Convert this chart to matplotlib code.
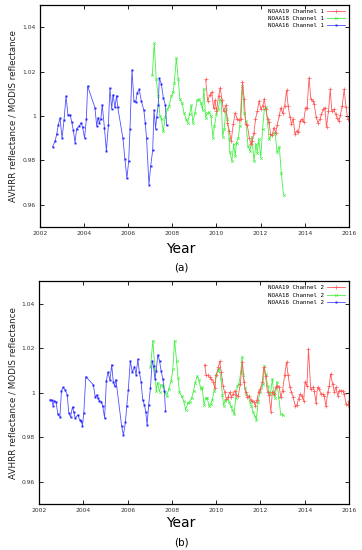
import matplotlib
matplotlib.use("Agg")
import matplotlib.pyplot as plt
import numpy as np

# ---------------- panel (a): channel 1 ----------------
a16_year = [2002.57, 2002.68, 2002.76, 2002.83, 2002.91, 2003.00, 2003.09, 2003.18, 2003.27, 2003.36,
            2003.44, 2003.51, 2003.59, 2003.66, 2003.78, 2003.87, 2003.93, 2004.02, 2004.10, 2004.16,
            2004.49, 2004.57, 2004.63, 2004.69, 2004.76, 2004.82, 2004.92, 2005.01, 2005.10, 2005.17,
            2005.25, 2005.31, 2005.40, 2005.47, 2005.52, 2005.76, 2005.85, 2005.94, 2006.02, 2006.08,
            2006.17, 2006.26, 2006.34, 2006.41, 2006.50, 2006.59, 2006.71, 2006.77, 2006.83, 2006.94,
            2007.02, 2007.11, 2007.17, 2007.24, 2007.29, 2007.36, 2007.41, 2007.50, 2007.59, 2007.68,
            2007.74]
a16_ratio = [0.9862, 0.9886, 0.9919, 0.9961, 0.9991, 0.9901, 0.9982, 1.0090, 1.0003, 1.0006,
             0.9973, 0.9937, 0.9880, 0.9943, 0.9955, 0.9970, 0.9949, 0.9901, 0.9985, 1.0134,
             1.0038, 0.9955, 0.9993, 0.9970, 0.9988, 1.0051, 0.9948, 0.9843, 0.9958, 1.0126,
             1.0033, 1.0096, 1.0039, 1.0092, 1.0042, 0.9900, 0.9805, 0.9720, 0.9796, 0.9940,
             1.0207, 1.0068, 1.0063, 1.0105, 1.0120, 1.0069, 1.0026, 0.9970, 0.9901, 0.9691,
             0.9777, 0.9847, 1.0026, 0.9943, 0.9996, 1.0050, 1.0170, 1.0146, 1.0083, 1.0051,
             0.9958]

a18_year = [2007.09, 2007.18, 2007.27, 2007.36, 2007.44, 2007.51, 2007.59, 2007.68, 2007.77, 2007.86,
            2007.95, 2008.04, 2008.09, 2008.18, 2008.27, 2008.34, 2008.44, 2008.53, 2008.62, 2008.69,
            2008.78, 2008.86, 2008.93, 2009.02, 2009.13, 2009.22, 2009.30, 2009.37, 2009.43, 2009.51,
            2009.58, 2009.67, 2009.75, 2009.84, 2009.91, 2010.00, 2010.07, 2010.16, 2010.22, 2010.28,
            2010.35, 2010.43, 2010.50, 2010.58, 2010.61, 2010.70, 2010.78, 2010.85, 2010.91, 2010.99,
            2011.06, 2011.14, 2011.18, 2011.26, 2011.33, 2011.43, 2011.52, 2011.61, 2011.70, 2011.79,
            2011.85, 2011.92, 2012.01, 2012.09, 2012.17, 2012.24, 2012.32, 2012.39, 2012.48, 2012.57,
            2012.66, 2012.75, 2012.85, 2012.94, 2013.04]
a18_ratio = [1.0183, 1.0327, 1.0165, 1.0090, 1.0000, 0.9985, 0.9931, 0.9997, 1.0030, 1.0045,
             1.0090, 1.0108, 1.0150, 1.0261, 1.0165, 1.0078, 1.0057, 1.0015, 0.9985, 0.9970,
             1.0008, 1.0048, 0.9970, 1.0015, 1.0071, 1.0075, 1.0057, 1.0027, 1.0123, 0.9993,
             1.0012, 1.0018, 1.0000, 0.9903, 0.9955, 1.0008, 1.0030, 1.0075, 1.0068, 0.9907,
             0.9940, 1.0030, 0.9988, 0.9895, 0.9838, 0.9798, 0.9873, 0.9820, 0.9880, 0.9903,
             0.9955, 1.0105, 1.0135, 1.0015, 0.9978, 0.9865, 0.9843, 0.9907, 0.9798, 0.9873,
             0.9835, 0.9895, 0.9813, 0.9940, 1.0030, 1.0042, 0.9970, 0.9895, 0.9913, 0.9922,
             0.9925, 0.9838, 0.9862, 0.9745, 0.9645]

a19_year = [2009.51, 2009.60, 2009.69, 2009.78, 2009.87, 2009.93, 2010.00, 2010.10, 2010.17, 2010.25,
            2010.32, 2010.43, 2010.50, 2010.58, 2010.67, 2010.76, 2010.85, 2010.93, 2011.02, 2011.11,
            2011.18, 2011.26, 2011.33, 2011.40, 2011.49, 2011.56, 2011.62, 2011.70, 2011.77, 2011.85,
            2011.94, 2012.01, 2012.09, 2012.17, 2012.24, 2012.32, 2012.39, 2012.45, 2012.54, 2012.60,
            2012.69, 2012.75, 2012.85, 2012.92, 2013.00, 2013.09, 2013.18, 2013.25, 2013.33, 2013.40,
            2013.48, 2013.56, 2013.63, 2013.72, 2013.80, 2013.87, 2013.95, 2014.04, 2014.11, 2014.20,
            2014.28, 2014.36, 2014.43, 2014.52, 2014.60, 2014.69, 2014.76, 2014.84, 2014.91, 2014.99,
            2015.08, 2015.16, 2015.23, 2015.32, 2015.40, 2015.47, 2015.55, 2015.62, 2015.70, 2015.79,
            2015.87, 2015.96, 2016.00]
a19_ratio = [1.0165, 1.0068, 1.0093, 1.0108, 1.0036, 1.0072, 1.0023, 1.0090, 1.0128, 1.0072,
             1.0023, 1.0048, 0.9970, 0.9933, 0.9888, 0.9963, 1.0015, 0.9988, 0.9982, 0.9988,
             1.0155, 1.0075, 0.9963, 0.9958, 0.9903, 0.9873, 0.9888, 0.9925, 0.9985, 1.0023,
             1.0068, 1.0030, 1.0045, 1.0075, 1.0030, 0.9988, 0.9973, 0.9918, 0.9913, 0.9948,
             0.9925, 0.9958, 1.0003, 1.0038, 1.0012, 1.0045, 1.0116, 1.0045, 0.9997, 0.9963,
             0.9988, 0.9918, 0.9933, 0.9928, 0.9978, 0.9985, 0.9973, 1.0038, 1.0038, 1.0173,
             1.0078, 1.0068, 1.0053, 0.9997, 0.9970, 0.9985, 1.0008, 1.0030, 1.0038, 0.9952,
             1.0023, 1.0120, 1.0023, 1.0030, 1.0008, 0.9993, 0.9978, 1.0003, 1.0045, 1.0120,
             1.0042, 0.9985, 0.9988]

# ---------------- panel (b): channel 2 ----------------
b16_year = [2002.50, 2002.57, 2002.63, 2002.69, 2002.76, 2002.85, 2002.94, 2003.01, 2003.09, 2003.18,
            2003.27, 2003.34, 2003.42, 2003.51, 2003.57, 2003.63, 2003.75, 2003.83, 2003.90, 2003.96,
            2004.02, 2004.11, 2004.45, 2004.54, 2004.60, 2004.66, 2004.72, 2004.81, 2004.87, 2004.96,
            2005.04, 2005.11, 2005.20, 2005.28, 2005.35, 2005.41, 2005.47, 2005.73, 2005.81, 2005.90,
            2005.96, 2006.03, 2006.12, 2006.21, 2006.31, 2006.38, 2006.46, 2006.53, 2006.61, 2006.68,
            2006.76, 2006.82, 2006.88, 2006.95, 2007.03, 2007.11, 2007.17, 2007.23, 2007.29, 2007.36,
            2007.44, 2007.51, 2007.59, 2007.66, 2007.71]
b16_ratio = [0.9969, 0.9966, 0.9942, 0.9963, 0.9960, 0.9903, 0.9891, 1.0008, 1.0024, 1.0012,
             0.9990, 0.9909, 0.9891, 0.9936, 0.9912, 0.9885, 0.9900, 0.9879, 0.9874, 0.9852,
             0.9909, 1.0072, 1.0035, 0.9979, 0.9990, 0.9975, 0.9964, 0.9960, 0.9942, 0.9886,
             1.0053, 1.0092, 1.0056, 1.0125, 1.0050, 1.0029, 1.0059, 0.9849, 0.9810, 0.9867,
             0.9939, 1.0011, 1.0143, 1.0092, 1.0116, 1.0080, 1.0149, 1.0092, 1.0047, 0.9969,
             0.9945, 0.9912, 0.9855, 0.9945, 1.0020, 1.0143, 1.0119, 1.0062, 1.0095, 1.0170,
             1.0144, 1.0099, 1.0062, 1.0009, 0.9919]

b18_year = [2007.03, 2007.14, 2007.23, 2007.29, 2007.35, 2007.44, 2007.51, 2007.59, 2007.68, 2007.77,
            2007.86, 2007.97, 2008.04, 2008.12, 2008.21, 2008.28, 2008.34, 2008.44, 2008.53, 2008.62,
            2008.72, 2008.80, 2008.89, 2008.98, 2009.05, 2009.14, 2009.22, 2009.30, 2009.37, 2009.45,
            2009.52, 2009.60, 2009.67, 2009.75, 2009.82, 2009.91, 2009.99, 2010.07, 2010.14, 2010.22,
            2010.28, 2010.34, 2010.41, 2010.49, 2010.58, 2010.65, 2010.73, 2010.81, 2010.88, 2010.96,
            2011.03, 2011.11, 2011.17, 2011.23, 2011.29, 2011.37, 2011.44, 2011.52, 2011.59, 2011.67,
            2011.74, 2011.82, 2011.89, 2011.97, 2012.04, 2012.12, 2012.17, 2012.24, 2012.33, 2012.39,
            2012.45, 2012.54, 2012.60, 2012.66, 2012.75, 2012.83, 2012.91, 2013.03]
b18_ratio = [1.0114, 1.0234, 1.0107, 1.0009, 1.0044, 1.0005, 1.0035, 1.0032, 1.0002, 0.9984,
             1.0017, 1.0054, 1.0104, 1.0234, 1.0144, 1.0065, 1.0002, 0.9984, 0.9964, 0.9924,
             0.9954, 0.9960, 0.9975, 1.0009, 1.0044, 1.0074, 1.0059, 1.0017, 1.0024, 0.9946,
             0.9975, 0.9975, 0.9942, 0.9948, 0.9966, 1.0009, 1.0077, 1.0095, 1.0110, 1.0062,
             0.9990, 0.9942, 0.9964, 0.9972, 0.9960, 0.9942, 0.9924, 0.9904, 0.9975, 1.0032,
             1.0039, 1.0092, 1.0159, 1.0077, 1.0020, 0.9994, 0.9987, 0.9960, 0.9942, 0.9912,
             0.9897, 0.9879, 0.9957, 1.0002, 1.0024, 1.0039, 1.0119, 1.0084, 1.0032, 1.0002,
             0.9994, 1.0062, 0.9994, 0.9978, 1.0047, 0.9979, 0.9904, 0.9900]

b19_year = [2009.48, 2009.55, 2009.63, 2009.70, 2009.78, 2009.87, 2009.94, 2010.00, 2010.10, 2010.16,
            2010.23, 2010.31, 2010.38, 2010.46, 2010.53, 2010.61, 2010.69, 2010.76, 2010.84, 2010.91,
            2011.00, 2011.09, 2011.18, 2011.26, 2011.33, 2011.41, 2011.49, 2011.56, 2011.64, 2011.71,
            2011.77, 2011.85, 2011.92, 2012.00, 2012.08, 2012.15, 2012.23, 2012.32, 2012.39, 2012.47,
            2012.54, 2012.62, 2012.69, 2012.77, 2012.85, 2012.92, 2013.00, 2013.09, 2013.18, 2013.25,
            2013.33, 2013.40, 2013.48, 2013.57, 2013.65, 2013.72, 2013.80, 2013.87, 2013.95, 2014.02,
            2014.10, 2014.17, 2014.27, 2014.36, 2014.43, 2014.51, 2014.58, 2014.66, 2014.73, 2014.81,
            2014.88, 2014.96, 2015.04, 2015.11, 2015.17, 2015.26, 2015.34, 2015.41, 2015.49, 2015.56,
            2015.64, 2015.71, 2015.79, 2015.87, 2015.96, 2016.00]
b19_ratio = [1.0125, 1.0077, 1.0077, 1.0068, 1.0062, 1.0050, 1.0020, 1.0077, 1.0114, 1.0140,
             1.0092, 1.0032, 1.0002, 0.9972, 0.9979, 1.0002, 0.9979, 0.9994, 1.0009, 0.9990,
             0.9987, 1.0039, 1.0137, 1.0047, 1.0002, 0.9979, 0.9984, 0.9969, 0.9964, 0.9957,
             0.9942, 0.9969, 1.0005, 1.0017, 1.0047, 1.0114, 1.0074, 1.0002, 0.9990, 0.9915,
             1.0005, 0.9994, 1.0024, 1.0032, 1.0027, 0.9979, 1.0009, 1.0077, 1.0137, 1.0077,
             1.0024, 1.0002, 0.9979, 0.9942, 0.9945, 0.9972, 0.9994, 0.9984, 0.9964, 1.0050,
             1.0029, 1.0197, 1.0017, 1.0024, 1.0009, 0.9954, 1.0024, 1.0017, 0.9994, 0.9994,
             0.9984, 0.9939, 1.0002, 1.0032, 1.0084, 1.0039, 1.0002, 1.0024, 0.9987, 1.0009,
             1.0009, 1.0008, 0.9994, 0.9949, 0.9945, 0.9963]

xticks = [2002, 2004, 2006, 2008, 2010, 2012, 2014, 2016]
yticks = [0.96, 0.98, 1.00, 1.02, 1.04]
ytick_labels = ["0.96", "0.98", "1", "1.02", "1.04"]

RED, GREEN, BLUE = "#ff5a5a", "#45f045", "#5050ff"

fig = plt.figure(figsize=(3.62, 5.5), dpi=100)


def panel(rect, ch, d19, d18, d16, tag, ylab_y, year_y, tag_y):
    ax = fig.add_axes(rect)
    l18, = ax.plot(d18[0], d18[1], color=GREEN, lw=0.6, marker="x", ms=1.8, mew=0.5)
    l16, = ax.plot(d16[0], d16[1], color=BLUE, lw=0.6, marker="s", ms=1.4, mew=0,
                   mfc="#2020ff")
    l19, = ax.plot(d19[0], d19[1], color=RED, lw=0.6, marker="+", ms=2.2, mew=0.5)
    ax.set_xlim(2002, 2016)
    ax.set_ylim(0.95, 1.05)
    ax.set_xticks(xticks)
    ax.set_yticks(yticks)
    ax.set_yticklabels(ytick_labels)
    ax.tick_params(direction="in", length=3, width=0.6, labelsize=4.3,
                   top=True, right=True, pad=3, colors="black", labelcolor="#333333")
    for s in ax.spines.values():
        s.set_linewidth(0.9)
    ax.legend([l19, l18, l16],
              ["NOAA19 Channel %d" % ch, "NOAA18 Channel %d" % ch, "NOAA16 Channel %d" % ch],
              loc="upper right", frameon=False, markerfirst=False,
              prop={"family": "DejaVu Sans Mono", "size": 4.2},
              handlelength=3.0, handletextpad=0.6, labelspacing=0.35,
              borderaxespad=0.3)
    fig.text(0.035, ylab_y, "AVHRR reflectance / MODIS reflectance", rotation=90,
             ha="center", va="center", fontsize=6.3, color="#222222")
    fig.text(0.5, year_y, "Year", ha="center", va="center", fontsize=10)
    fig.text(0.5, tag_y, tag, ha="center", va="center", fontsize=7.5)
    return ax


panel([0.1105, 0.587, 0.853, 0.404], 1, (a19_year, a19_ratio), (a18_year, a18_ratio),
      (a16_year, a16_ratio), "(a)", 0.789, 0.548, 0.514)
panel([0.1080, 0.0836, 0.856, 0.405], 2, (b19_year, b19_ratio), (b18_year, b18_ratio),
      (b16_year, b16_ratio), "(b)", 0.286, 0.049, 0.013)

fig.savefig("out.png", dpi=100)
